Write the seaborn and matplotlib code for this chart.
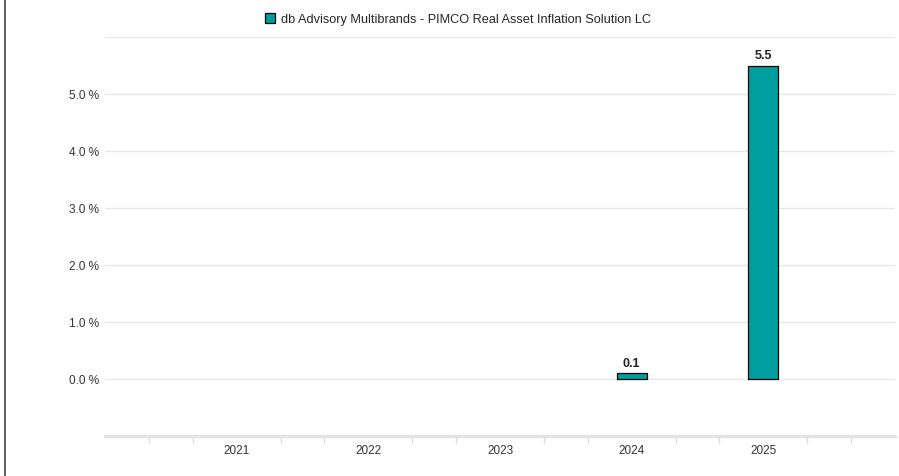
import pandas as pd
import numpy as np
import matplotlib
matplotlib.use("Agg")
import matplotlib.pyplot as plt
import seaborn as sns
from matplotlib.patches import Patch
from matplotlib.lines import Line2D

sns.set_style("white")
plt.rcParams["font.family"] = ["Liberation Sans", "DejaVu Sans"]

years = ["2021", "2022", "2023", "2024", "2025"]
bar_years = ["2024", "2025"]
bar_values = [0.1, 5.5]
series_name = "db Advisory Multibrands - PIMCO Real Asset Inflation Solution LC"
bar_color = "#009E9E"

df = pd.DataFrame({"year": bar_years, "value": bar_values})

fig = plt.figure(figsize=(8.99, 4.77), dpi=100)
ax = fig.add_axes([105 / 899, 1 - 437 / 477, 790 / 899, 399 / 477])

sns.barplot(data=df, x="year", y="value", order=years, color=bar_color,
            width=0.23, edgecolor="black", linewidth=0.9, saturation=1, ax=ax)

ax.set_xlim(-1, 5)
ax.set_ylim(-1, 6)
ax.set_yticks(range(-1, 7))
ax.set_yticklabels(["" if v < 0 or v > 5 else f"{v:.1f} %" for v in range(-1, 7)])
ax.grid(axis="y", color="#e6e6e6", linewidth=1)
ax.set_axisbelow(True)
ax.tick_params(axis="y", length=0, labelsize=8.5, pad=4, labelcolor="#333333")
ax.tick_params(axis="x", length=0, labelsize=8.5, pad=6, labelcolor="#333333")
ax.set_xlabel("")
ax.set_ylabel("")
for s in ["top", "right", "left"]:
    ax.spines[s].set_visible(False)
ax.spines["bottom"].set_color("#e3e3e3")
ax.spines["bottom"].set_linewidth(2.5)

# light minor ticks between categories
minor = [k / 3 for k in range(-3, 15) if k % 3 != 0]
ax.set_xticks(minor, minor=True)
ax.tick_params(axis="x", which="minor", bottom=True, length=5, color="#dcdcdc",
               width=1, direction="out")

for c in ax.containers:
    ax.bar_label(c, labels=[f"{v:.1f}" for v in bar_values], padding=3,
                 fontsize=9, fontweight="bold", color="#222222")

handle = Patch(facecolor=bar_color, edgecolor="black", linewidth=0.9)
fig.legend([handle], [series_name], loc="center", bbox_to_anchor=(458 / 899, 1 - 20 / 477),
           frameon=False, fontsize=9.2, handlelength=0.8, handleheight=0.8, handletextpad=0.5)

fig.add_artist(Line2D([4.5 / 899, 4.5 / 899], [0, 1], color="#444444", linewidth=1.2,
                      transform=fig.transFigure))

fig.savefig("out.png", dpi=100)
